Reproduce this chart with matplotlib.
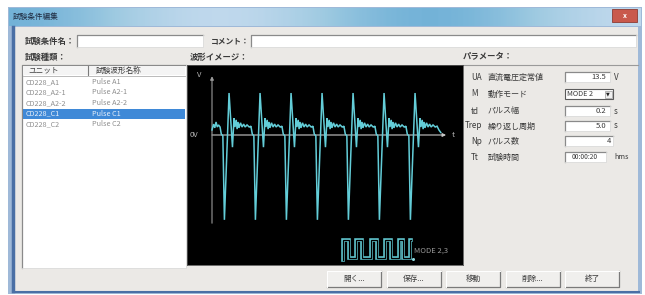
import matplotlib
matplotlib.use('Agg')
import matplotlib.pyplot as plt
from matplotlib.patches import Rectangle
import numpy as np

plt.rcParams['font.family'] = ['Noto Sans CJK JP', 'DejaVu Sans']

# --- data -------------------------------------------------------------
window_title = '試験条件編集'
list_headers = ['ユニット', '試験波形名称']
units = ['CD228_A1', 'CD228_A2-1', 'CD228_A2-2', 'CD228_C1', 'CD228_C2']
wave_names = ['Pulse A1', 'Pulse A2-1', 'Pulse A2-2', 'Pulse C1', 'Pulse C2']
selected_row = 3

param_syms = ['UA', 'M', 'td', 'Trep', 'Np', 'Tt']
param_names = ['直流電圧定常値', '動作モード', 'パルス幅', '繰り返し周期', 'パルス数', '試験時間']
param_values = ['13.5', 'MODE 2', '0.2', '5.0', '4', '00:00:20']
param_units = ['V', '', 's', 's', '', 'hms']

buttons = ['開く...', '保存...', '移動', '削除...', '終了']

# waveform: time in pulse periods, voltage relative to the positive peak
pulse_peaks = [0.55, 1.55, 2.55, 3.55, 4.55, 5.55, 6.55]
lead_t = [0.0, 0.05, 0.09, 0.13, 0.17, 0.21]
lead_v = [0.12, 0.26, 0.17, 0.31, 0.19, 0.24]
pulse_dt = [-0.29, -0.25, -0.20, -0.15, 0.0, 0.08, 0.11, 0.16, 0.19, 0.23, 0.26,
            0.29, 0.32, 0.37, 0.42, 0.47, 0.52, 0.58, 0.65, 0.71]
pulse_v = [0.19, 0.02, -0.02, -2.02, 1.0, 0.07, -0.29, 0.40, 0.19, 0.36, 0.14,
           0.31, 0.17, 0.29, 0.19, 0.26, 0.19, 0.24, 0.19, 0.21]
tail_t = [7.32, 7.38]
tail_v = [0.12, 0.06]

mode_edges = [343, 349, 356, 362, 371, 377, 385, 391, 399, 403, 410]
mode_label = 'MODE 2,3'

# --- figure ------------------------------------------------------------
W, H = 645, 295
fig = plt.figure(figsize=(6.45, 2.95), dpi=100, facecolor='white')
ui = fig.add_axes([0, 0, 1, 1])
ui.set_xlim(0, W)
ui.set_ylim(H, 0)
ui.axis('off')

BG = '#ebe9e6'
TXT = '#3a3a3a'


def rect(x0, y0, x1, y1, fc='none', ec='none', lw=0.8, z=1):
    ui.add_patch(Rectangle((x0, y0), x1 - x0, y1 - y0, facecolor=fc,
                           edgecolor=ec, lw=lw, zorder=z))


def sunken(x0, y0, x1, y1, z=3):
    rect(x0, y0, x1, y1, fc='white', z=z)
    ui.plot([x0, x0, x1], [y1, y0, y0], color='#8a8a8a', lw=0.9, zorder=z + 0.1)
    ui.plot([x0, x1, x1], [y1, y1, y0], color='#dcdcdc', lw=0.6, zorder=z + 0.1)


# window frame + title bar
rect(8, 7, 642, 294, fc='#9fb9d8', z=0)
grad = np.linspace(0, 1, 256)
grad = 0.55 + 0.45 * np.sin(grad * np.pi * 1.5) ** 2
ui.imshow(np.vstack([grad, grad]), extent=[9, 641, 26, 8], cmap='Blues_r',
          vmin=-0.6, vmax=1.6, aspect='auto', zorder=0.5)
ui.text(13, 17, window_title, fontsize=5.5, color='#1e2a40', va='center', zorder=2)
rect(612, 9, 637, 22, fc='#c9594c', ec='#8d3b33', lw=0.6, z=2)
ui.text(624.5, 15.5, 'x', fontsize=5, color='white', ha='center', va='center',
        fontweight='bold', zorder=3)
rect(14, 27, 638, 291, fc=BG, z=1)
ui.plot([13, 13], [27, 291], color='#4a6fa5', lw=2.5, zorder=1.5)
ui.plot([13, 639], [292, 292], color='#4a6fa5', lw=1.5, zorder=1.5)

# name / comment row
ui.text(25, 41, '試験条件名：', fontsize=6, color=TXT, va='center', fontweight='bold', zorder=3)
sunken(77, 35, 203, 47)
ui.text(211, 41, 'コメント：', fontsize=5.6, color=TXT, va='center', fontweight='bold', zorder=4)
sunken(251, 35, 636, 47)

# section labels
ui.text(25, 57, '試験種類：', fontsize=6, color=TXT, va='center', fontweight='bold', zorder=3)
ui.text(190, 57, '波形イメージ：', fontsize=6, color=TXT, va='center', fontweight='bold', zorder=3)
ui.text(463, 57, 'パラメータ：', fontsize=6, color=TXT, va='center', fontweight='bold', zorder=3)
ui.plot([462, 638], [64.5, 64.5], color='#9a9a9a', lw=0.8, zorder=3)

# list box
sunken(22, 65, 186, 268)
rect(23, 66, 185, 75, fc='#f4f4f4', z=3.2)
ui.plot([88, 88], [66, 75], color='#7a7a7a', lw=0.8, zorder=3.3)
ui.plot([23, 185], [75.5, 75.5], color='#b0b0b0', lw=0.6, zorder=3.3)
ui.text(44, 70.5, list_headers[0], fontsize=5.5, color=TXT, ha='center', va='center', zorder=4)
ui.text(119, 70.5, list_headers[1], fontsize=5.5, color=TXT, ha='center', va='center', zorder=4)
for i, (u, n) in enumerate(zip(units, wave_names)):
    y = 82 + i * 10.5
    col = '#8e8e8e'
    if i == selected_row:
        rect(23, y - 5, 185, y + 5, fc='#3f89d7', z=3.4)
        col = '#e8f0fa'
    ui.text(26, y, u, fontsize=5.2, color=col, va='center', zorder=4)
    ui.text(92, y, n, fontsize=5.2, color=col, va='center', zorder=4)

# parameters
row_y = [77, 94, 111, 126, 141, 157]
for i, (s, n, v, un) in enumerate(zip(param_syms, param_names, param_values, param_units)):
    y = row_y[i]
    ui.text(465 if s == 'Trep' else 471, y, s, fontsize=5.8, color=TXT, va='center', zorder=4)
    ui.text(488, y, n, fontsize=5.8, color=TXT, va='center', zorder=4)
    if s == 'M':
        rect(565, y - 5, 613, y + 5, fc='white', ec='#5a5a5a', lw=0.8, z=3)
        ui.text(567, y, v, fontsize=5.2, color=TXT, va='center', zorder=4)
        rect(605, y - 3.5, 611.5, y + 3.5, fc='#f0f0f0', ec='#999999', lw=0.5, z=4)
        ui.text(608.3, y, '▼', fontsize=3.5, color='#222222', ha='center', va='center',
                family=['DejaVu Sans'], zorder=5)
    elif s == 'Tt':
        sunken(565, y - 5, 606, y + 5)
        ui.text(585, y, v, fontsize=4.8, color=TXT, ha='center', va='center', zorder=4)
        ui.text(614, y, un, fontsize=5.2, color=TXT, va='center', zorder=4)
    else:
        sunken(565, y - 5, 613 if un == '' else 610, y + 5)
        ui.text(611 if un == '' else 606, y, v, fontsize=5.5, color=TXT, ha='right',
                va='center', zorder=4)
        if un:
            ui.text(614, y, un, fontsize=5.8, color=TXT, va='center', zorder=4)

# buttons
for i, b in enumerate(buttons):
    x0 = 327 + i * 59.5
    rect(x0, 271, x0 + 54, 287, fc='#f0efed', z=3)
    ui.plot([x0, x0 + 54, x0 + 54], [287, 287, 271], color='#7a7a7a', lw=0.9, zorder=3.2)
    ui.plot([x0, x0, x0 + 54], [287, 271, 271], color='#ffffff', lw=0.7, zorder=3.2)
    ui.text(x0 + 27, 279, b, fontsize=5.5, color=TXT, ha='center', va='center', zorder=4)

# --- waveform panel ------------------------------------------------------
px0, py0, px1, py1 = 187, 65, 463, 265
wv = fig.add_axes([px0 / W, 1 - py1 / H, (px1 - px0) / W, (py1 - py0) / H])
wv.set_facecolor('black')
wv.set_xlim(-25 / 31, 251 / 31)
wv.set_ylim(-130 / 42, 70 / 42)
wv.set_xticks([])
wv.set_yticks([])
for sp in wv.spines.values():
    sp.set_color('#555555')
    sp.set_linewidth(0.6)

t_all = list(lead_t)
v_all = list(lead_v)
for p in pulse_peaks:
    t_all += [p + d for d in pulse_dt]
    v_all += pulse_v
t_all += tail_t
v_all += tail_v

axis_col = '#c8c8c8'
wv.annotate('', xy=(7.55, 0), xytext=(0, 0),
            arrowprops=dict(arrowstyle='-|>', color=axis_col, lw=0.8,
                            mutation_scale=5, shrinkA=0, shrinkB=0))
wv.annotate('', xy=(0, 1.40), xytext=(0, -2.1),
            arrowprops=dict(arrowstyle='-|>', color='#9a9a9a', lw=0.8,
                            mutation_scale=5, shrinkA=0, shrinkB=0))
wv.plot(t_all, v_all, color='#63cdd8', lw=1.1, solid_joinstyle='miter', zorder=3)
wv.text(-0.42, 1.42, 'V', fontsize=5.5, color='#b8b8b8', ha='center', va='center')
wv.text(-0.58, 0, '0V', fontsize=5.5, color='#b8b8b8', ha='center', va='center')
wv.text(7.78, 0, 't', fontsize=5.5, color='#b8b8b8', ha='center', va='center')

# mode icon (pixel coordinates on the ui axes, drawn above the panel)
ui2 = fig.add_axes([0, 0, 1, 1], facecolor='none')
ui2.set_xlim(0, W)
ui2.set_ylim(H, 0)
ui2.axis('off')
xs, ys = [mode_edges[0]], [260]
lvl = [240, 258]
for i, e in enumerate(mode_edges):
    y = lvl[i % 2]
    xs += [e, e]
    ys += [ys[-1], y]
xs.append(mode_edges[-1] + 1)
ys.append(ys[-1])
ui2.plot(xs, ys, color='#5fc3cc', lw=2.6, solid_joinstyle='miter')
ui2.plot(xs, ys, color='black', lw=0.9, solid_joinstyle='miter')
ui2.plot([412.5], [259], marker='o', ms=1.2, color='#8fd6dc')
ui2.text(414, 251, mode_label, fontsize=5.5, color='#9a9a9a', va='center')

fig.savefig('out.png', dpi=100, facecolor='white')
